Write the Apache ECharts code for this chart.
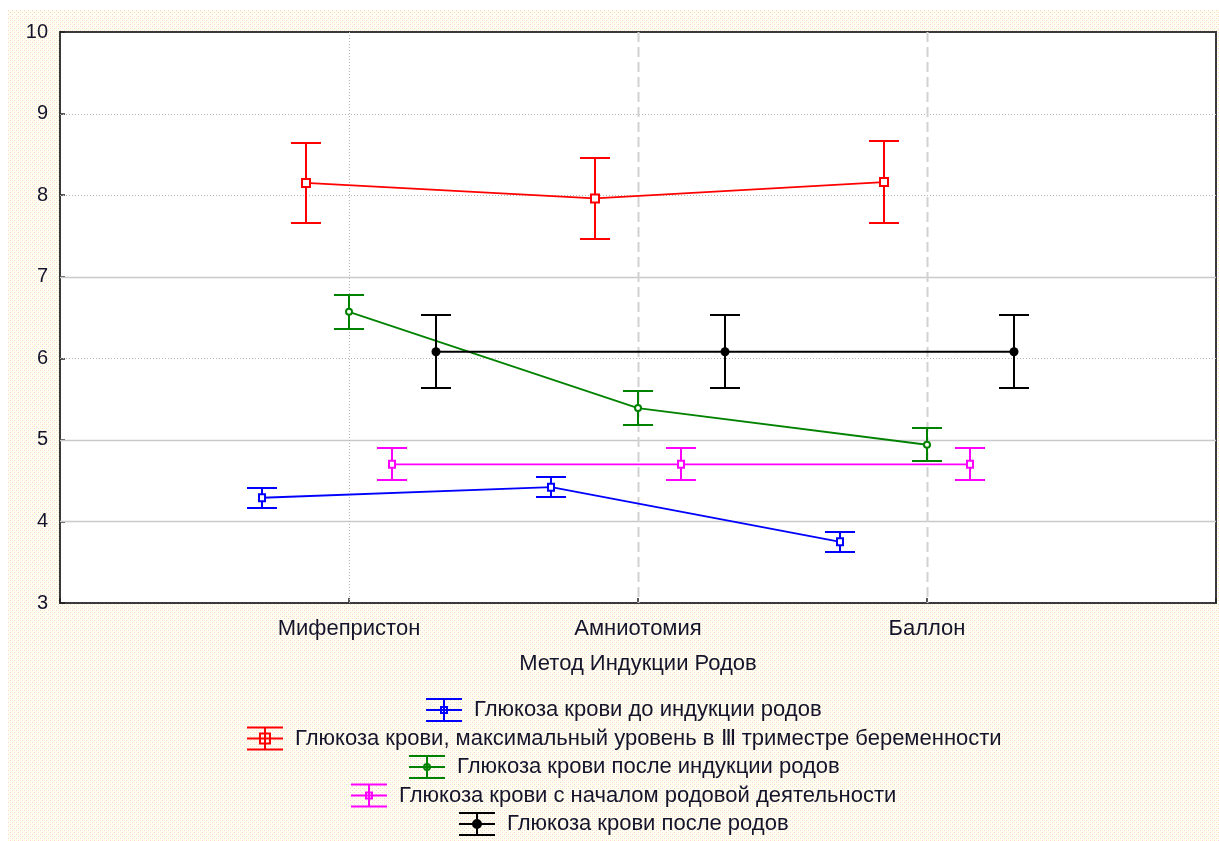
<!DOCTYPE html>
<html>
<head>
<meta charset="utf-8">
<script src="https://cdn.jsdelivr.net/npm/echarts@6/dist/echarts.min.js"></script>
<style>
  html, body { margin: 0; padding: 0; background: #ffffff; }
  #paper { position: absolute; left: 8px; top: 10px; width: 1211px; height: 831px; }
  #chart { position: absolute; left: 0; top: 0; width: 1219px; height: 841px; }
</style>
</head>
<body>
<div id="paper"></div>
<div id="chart"></div>
<script>
// Induction methods (x categories)
const methods = ['Мифепристон', 'Амниотомия', 'Баллон'];

// Series names
const nameBefore     = 'Глюкоза крови до индукции родов';
const nameMaxIII     = 'Глюкоза крови, максимальный уровень в Ⅲ триместре беременности';
const nameAfterInd   = 'Глюкоза крови после индукции родов';
const nameLabour     = 'Глюкоза крови с началом родовой деятельности';
const namePostpartum = 'Глюкоза крови после родов';

// Means and half-widths of the error bars, per method
const meanBefore     = [4.29, 4.42, 3.75];
const errBefore      = [0.125, 0.12, 0.125];
const meanMaxIII     = [8.15, 7.96, 8.16];
const errMaxIII      = [0.49, 0.50, 0.50];
const meanAfterInd   = [6.57, 5.39, 4.94];
const errAfterInd    = [0.21, 0.21, 0.20];
const meanLabour     = [4.70, 4.70, 4.70];
const errLabour      = [0.195, 0.195, 0.195];
const meanPostpartum = [6.08, 6.08, 6.08];
const errPostpartum  = [0.45, 0.45, 0.45];

// Y axis ticks and grid lines
const yMin = 3, yMax = 10, yStep = 1;
const yGridValues = [4, 5, 6, 7, 8, 9];
const xGridValues = [1, 2, 3];

// ---- presentation ----
const FONT = '"Liberation Sans", Arial, sans-serif';
const TEXT = '#14142a';
const LEGEND_FONT_SIZE = 22;
const yGridStyle = { 4: 'solid', 5: 'solid', 6: 'dotted', 7: 'solid', 8: 'dotted', 9: 'dotted' };
const xGridStyle = { 1: 'dotted', 2: 'dashed', 3: 'dashed' };

// horizontal dodge of each series around its method position
const groups = [
  { name: nameBefore,     mean: meanBefore,     err: errBefore,     color: '#0000ff', dodge: -0.30, marker: 'smallRect' },
  { name: nameMaxIII,     mean: meanMaxIII,     err: errMaxIII,     color: '#ff0000', dodge: -0.15, marker: 'rect' },
  { name: nameAfterInd,   mean: meanAfterInd,   err: errAfterInd,   color: '#008200', dodge:  0.00, marker: 'circle' },
  { name: nameLabour,     mean: meanLabour,     err: errLabour,     color: '#ff00ff', dodge:  0.15, marker: 'smallRect' },
  { name: namePostpartum, mean: meanPostpartum, err: errPostpartum, color: '#000000', dodge:  0.30, marker: 'dot' }
];

// legend icons: error-bar glyph with the series marker
const iconBase = 'M0 0H36V2H0Z M0 22H36V24H0Z M0 11H36V13H0Z M17 0H19V24H17Z ';
const iconMarker = {
  smallRect: 'M14 8H22V16H14Z M16 10V14H20V10Z',
  rect: 'M12 6H24V18H12Z M14 8V16H22V8Z',
  circle: 'M22 12A4 4 0 1 1 14 12A4 4 0 1 1 22 12Z M20 12A2 2 0 1 0 16 12A2 2 0 1 0 20 12Z',
  dot: 'M23 12A5 5 0 1 1 13 12A5 5 0 1 1 23 12Z'
};

// dotted paper behind the chart
(function () {
  const c = document.createElement('canvas');
  c.width = 4; c.height = 4;
  const g = c.getContext('2d');
  g.fillStyle = '#fffff6'; g.fillRect(0, 0, 4, 4);
  g.fillStyle = '#f9d3dc'; g.fillRect(0, 0, 1, 1); g.fillRect(2, 2, 1, 1);
  g.fillStyle = '#fffbc8'; g.fillRect(2, 0, 1, 1); g.fillRect(0, 2, 1, 1);
  const p = document.getElementById('paper');
  p.style.backgroundImage = 'url(' + c.toDataURL() + ')';
  p.style.backgroundRepeat = 'repeat';
})();

function markerShape(kind, x, y, color) {
  if (kind === 'rect') {
    return { type: 'rect', shape: { x: x - 4, y: y - 4, width: 8, height: 8 }, style: { stroke: color, lineWidth: 2, fill: '#ffffff' } };
  }
  if (kind === 'smallRect') {
    return { type: 'rect', shape: { x: x - 3, y: y - 3.5, width: 6, height: 7 }, style: { stroke: color, lineWidth: 2, fill: '#ffffff' } };
  }
  if (kind === 'circle') {
    return { type: 'circle', shape: { cx: x, cy: y, r: 3 }, style: { stroke: color, lineWidth: 2, fill: '#ffffff' } };
  }
  return { type: 'circle', shape: { cx: x, cy: y, r: 4.5 }, style: { fill: color } };
}

const series = [];

// grid lines drawn inside the plot
series.push({
  type: 'custom', silent: true, z: 1,
  data: yGridValues.map(v => [0, v]),
  renderItem(params, api) {
    const cs = params.coordSys;
    const y = Math.round(api.coord([0, api.value(1)])[1]) + 0.5;
    const t = yGridStyle[api.value(1)];
    return {
      type: 'line',
      shape: { x1: cs.x, y1: y, x2: cs.x + cs.width, y2: y },
      style: t === 'solid'
        ? { stroke: '#c9c9c9', lineWidth: 1.5 }
        : { stroke: '#b4b4b4', lineWidth: 1, lineDash: [1, 2] }
    };
  }
});
series.push({
  type: 'custom', silent: true, z: 1,
  data: xGridValues.map(v => [v, yMin]),
  renderItem(params, api) {
    const cs = params.coordSys;
    const x = Math.round(api.coord([api.value(0), yMin])[0]) + 0.5;
    const t = xGridStyle[api.value(0)];
    return {
      type: 'line',
      shape: { x1: x, y1: cs.y, x2: x, y2: cs.y + cs.height },
      style: t === 'dashed'
        ? { stroke: '#d2d2d2', lineWidth: 2, lineDash: [10, 5] }
        : { stroke: '#b4b4b4', lineWidth: 1, lineDash: [1, 2] }
    };
  }
});

groups.forEach(gr => {
  const pts = gr.mean.map((m, i) => [i + 1 + gr.dodge, m, gr.err[i]]);
  // error bars with markers
  series.push({
    type: 'custom', name: gr.name, z: 3,
    itemStyle: { color: gr.color },
    data: pts,
    renderItem(params, api) {
      const x = api.value(0), m = api.value(1), e = api.value(2);
      const c = api.coord([x, m]);
      const hi = api.coord([x, m + e]);
      const lo = api.coord([x, m - e]);
      const px = Math.round(c[0]);
      const st = { stroke: gr.color, lineWidth: 2 };
      return {
        type: 'group',
        children: [
          { type: 'line', shape: { x1: px, y1: hi[1], x2: px, y2: lo[1] }, style: st },
          { type: 'line', shape: { x1: px - 15, y1: Math.round(hi[1]), x2: px + 15, y2: Math.round(hi[1]) }, style: st },
          { type: 'line', shape: { x1: px - 15, y1: Math.round(lo[1]), x2: px + 15, y2: Math.round(lo[1]) }, style: st },
          markerShape(gr.marker, px, c[1], gr.color)
        ]
      };
    }
  });
  // connecting line
  series.push({
    type: 'line', name: gr.name, z: 2,
    data: pts.map(p => [p[0], p[1]]),
    symbol: 'none',
    lineStyle: { color: gr.color, width: 1.8 },
    itemStyle: { color: gr.color },
    silent: true
  });
});

// one legend row per series, each centred under the plot area
const measureCtx = document.createElement('canvas').getContext('2d');
measureCtx.font = LEGEND_FONT_SIZE + 'px ' + FONT;
const legendAxisX = 624;
const legendCenters = [710, 738.5, 767, 795.5, 824];
const legends = groups.map((gr, i) => {
  const rowWidth = 36 + 5 + 7 + measureCtx.measureText(gr.name).width;
  return {
    data: [{ name: gr.name, icon: 'path://' + iconBase + iconMarker[gr.marker] }],
    left: Math.round(legendAxisX - rowWidth / 2),
    top: legendCenters[i] - 12,
    padding: 0,
    itemWidth: 36,
    itemHeight: 24,
    selectedMode: false,
    itemStyle: { borderWidth: 0 },
    textStyle: { fontFamily: FONT, fontSize: LEGEND_FONT_SIZE, color: TEXT, padding: [0, 0, 0, 7] }
  };
});

const chart = echarts.init(document.getElementById('chart'), null, { renderer: 'canvas' });
chart.setOption({
  animation: false,
  backgroundColor: 'transparent',
  grid: {
    left: 60, right: 3, top: 32, bottom: 238,
    show: true, backgroundColor: '#ffffff', borderColor: '#3a3a3a', borderWidth: 2
  },
  xAxis: {
    type: 'value', min: 0, max: 4, interval: 1,
    name: 'Метод Индукции Родов',
    nameLocation: 'middle', nameGap: 50,
    nameTextStyle: { fontFamily: FONT, fontSize: 22, color: TEXT },
    axisLine: { show: false },
    splitLine: { show: false },
    axisTick: { show: true, inside: true, length: 5, lineStyle: { color: '#222', width: 1.5 } },
    axisLabel: {
      margin: 15, fontFamily: FONT, fontSize: 22, color: TEXT,
      formatter: v => methods[v - 1] || ''
    }
  },
  yAxis: {
    type: 'value', min: yMin, max: yMax, interval: yStep,
    axisLine: { show: false },
    splitLine: { show: false },
    axisTick: { show: true, inside: true, length: 5, lineStyle: { color: '#222', width: 1.5 } },
    axisLabel: { margin: 12, fontFamily: FONT, fontSize: 20, color: TEXT }
  },
  legend: legends,
  series: series
});
</script>
</body>
</html>
